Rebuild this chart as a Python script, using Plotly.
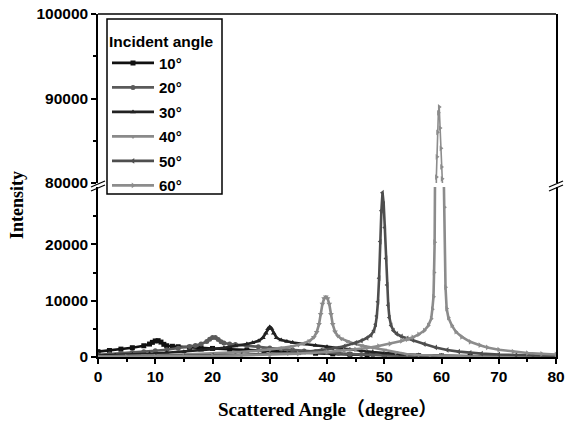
import plotly.graph_objects as go

# ---------------- data ----------------
legend_labels = ["10°", "20°", "30°", "40°", "50°", "60°"]

x10 = [0, 2, 4, 6, 8, 9, 9.5, 10, 10.5, 11, 11.5, 12, 13, 14, 16, 18, 20, 23, 26, 29, 32, 35, 38, 41, 44, 47,
       50, 53, 56, 60, 65, 70, 75, 80]
y10 = [950, 1150, 1400, 1650, 2000, 2300, 2600, 2850, 2900, 2650, 2250, 2000, 1900, 1820, 1720, 1620, 1520,
       1370, 1220, 1070, 920, 790, 670, 560, 470, 400, 340, 280, 230, 180, 130, 90, 60, 40]

x20 = [0, 2, 4, 6, 8, 10, 12, 14, 16, 17, 18, 19, 19.5, 20, 20.5, 21, 21.5, 22, 23, 24, 26, 28, 30, 32, 34, 36,
       38, 40, 42, 44, 46, 48, 50, 53, 56, 60, 65, 70, 75, 80]
y20 = [400, 520, 650, 800, 950, 1100, 1300, 1550, 1850, 2050, 2300, 2750, 3150, 3450, 3450, 3100, 2700, 2480,
       2320, 2200, 2000, 1800, 1600, 1420, 1250, 1080, 920, 780, 650, 540, 440, 360, 290, 210, 150, 100, 60,
       35, 20, 10]

x30 = [0, 3, 6, 9, 12, 15, 18, 20, 22, 24, 26, 27, 28, 28.8, 29.3, 29.7, 30, 30.3, 30.7, 31.2, 32, 33, 34, 36,
       38, 40, 42, 44, 46, 48, 50, 53, 56, 60, 65, 70, 75, 80]
y30 = [250, 330, 440, 580, 750, 950, 1200, 1400, 1650, 1950, 2300, 2550, 2850, 3400, 4200, 5000, 5350, 5050,
       4200, 3400, 3000, 2750, 2580, 2300, 2050, 1800, 1550, 1320, 1100, 900, 720, 510, 360, 230, 140, 85,
       50, 30]

x40 = [0, 4, 8, 12, 16, 20, 24, 28, 30, 32, 34, 35, 36, 37, 37.7, 38.2, 38.6, 38.9, 39.2, 39.5, 39.8, 40.1,
       40.4, 40.7, 41.0, 41.4, 41.9, 42.5, 43.5, 44.5, 46, 48, 50, 52, 54, 56, 58, 60, 63, 66, 70, 75, 80]
y40 = [100, 150, 230, 330, 460, 630, 850, 1120, 1320, 1580, 1920, 2150, 2450, 2900, 3500, 4400, 5800, 7600,
       9400, 10400, 10700, 10400, 9400, 7600, 5800, 4500, 3750, 3250, 2800, 2450, 2050, 1650, 1250, 800,
       500, 350, 260, 200, 140, 100, 70, 50, 35]

x50 = [0, 5, 10, 15, 20, 25, 30, 33, 36, 39, 41, 43, 45, 46, 47, 47.7, 48.2, 48.5, 48.7, 48.9, 49.1, 49.3,
       49.5, 49.7, 49.9, 50.1, 50.3, 50.5, 50.7, 50.9, 51.2, 51.6, 52.2, 53, 54, 55, 57, 59, 61, 63, 65, 67,
       70, 73, 76, 80]
y50 = [50, 80, 130, 200, 290, 400, 550, 700, 900, 1200, 1500, 1900, 2500, 2900, 3400, 3900, 4700, 5800, 7300,
       9800, 14000, 20500, 26000, 29200, 27200, 23000, 17500, 12800, 9200, 7000, 5600, 4700, 4100, 3650,
       3300, 3000, 2300, 1700, 1250, 950, 750, 600, 450, 330, 250, 180]

x60 = [0, 5, 10, 15, 20, 25, 30, 35, 40, 43, 45, 47, 49, 51, 53, 54, 55, 56, 57, 57.7, 58.2, 58.4, 58.6, 58.7,
       58.8, 58.95, 59.1, 59.2, 59.3, 59.45, 59.6, 59.75, 59.9, 60.0, 60.1, 60.2, 60.35, 60.5, 60.7, 60.9,
       61.2, 61.8, 62.5, 63.5, 65, 66.7, 68, 70, 72.5, 75, 77.5, 80]
y60 = [20, 40, 70, 120, 180, 280, 400, 600, 900, 1150, 1350, 1600, 1950, 2350, 2850, 3150, 3500, 4000, 4700,
       5600, 6800, 8500, 10700, 15000, 20400, 45000, 80700, 83100, 86000, 88300, 89000, 86500, 84100, 81900,
       80500, 60000, 35000, 26600, 12400, 8600, 7000, 5600, 4500, 3600, 2700, 2100, 1700, 1300, 950, 700,
       560, 450]

x_ticks = [0, 10, 20, 30, 40, 50, 60, 70, 80]
x_minor = [5, 15, 25, 35, 45, 55, 65, 75]
y_low_ticks = [0, 10000, 20000]
y_low_minor = [5000, 15000, 25000]
y_high_ticks = [80000, 90000, 100000]
y_high_minor = [85000, 95000]

# ---------------- styling ----------------
colors = ["#111111", "#5a5a5a", "#222222", "#8a8a8a", "#4e4e4e", "#8c8c8c"]
symbols = ["square", "circle", "triangle-up", "triangle-down", "triangle-left", "triangle-right"]
xs = [x10, x20, x30, x40, x50, x60]
ys = [y10, y20, y30, y40, y50, y60]

W, H = 565, 423
L, R, T, B = 98, 9, 14, 66
PW, PH = W - L - R, H - T - B


def px_x(p):  # reference pixel -> paper x
    return (p - L) / PW


def px_y(p):  # reference pixel -> paper y
    return (H - B - p) / PH


fig = go.Figure()
for lab, xv, yv, c, s in zip(legend_labels, xs, ys, colors, symbols):
    fig.add_trace(go.Scatter(x=xv, y=yv, mode="lines+markers", name=lab, legendgroup=lab,
                             line=dict(color=c, width=2.6), marker=dict(symbol=s, size=5, color=c),
                             xaxis="x", yaxis="y"))
# the 60° peak continues on the upper (broken) segment
fig.add_trace(go.Scatter(x=x60, y=y60, mode="lines+markers", name=legend_labels[5],
                         legendgroup=legend_labels[5], showlegend=False,
                         line=dict(color=colors[5], width=1.6),
                         marker=dict(symbol=symbols[5], size=5, color=colors[5]),
                         xaxis="x", yaxis="y2"))

tickfont = dict(family="Liberation Sans, Arial, sans-serif", size=15.5, color="black", weight="bold")
axis_common = dict(showline=True, linecolor="black", linewidth=1.5, ticks="outside", ticklen=5,
                   tickwidth=1.5, tickcolor="black", showgrid=False, zeroline=False, tickfont=tickfont,
                   automargin=False, ticklabeloverflow="allow")

lower_top = px_y(187)
upper_bot = px_y(183)

fig.update_layout(
    width=W, height=H,
    margin=dict(l=L, r=R, t=T, b=B, autoexpand=False),
    paper_bgcolor="white", plot_bgcolor="white",
    showlegend=True,
    xaxis=dict(domain=[0, 1], range=[0, 80], tickmode="array", tickvals=x_ticks,
               ticktext=[str(v) for v in x_ticks], anchor="y",
               minor=dict(tickmode="array", tickvals=x_minor, ticks="outside", ticklen=3, tickwidth=1.5,
                          tickcolor="black"),
               **axis_common),
    yaxis=dict(domain=[0, lower_top], range=[0, 30200], tickmode="array", tickvals=y_low_ticks,
               ticktext=[str(v) for v in y_low_ticks], anchor="x", mirror=True,
               minor=dict(tickmode="array", tickvals=y_low_minor, ticks="outside", ticklen=3, tickwidth=1.5,
                          tickcolor="black"),
               **axis_common),
    yaxis2=dict(domain=[upper_bot, 1], range=[80000, 100000], tickmode="array", tickvals=y_high_ticks,
                ticktext=[str(v) for v in y_high_ticks], anchor="x", mirror=True,
                minor=dict(tickmode="array", tickvals=y_high_minor, ticks="outside", ticklen=3, tickwidth=1.5,
                           tickcolor="black"),
                **axis_common),
    legend=dict(x=px_x(107), y=px_y(26.5), xanchor="left", yanchor="top", bgcolor="rgba(0,0,0,0)",
                borderwidth=0, tracegroupgap=2, itemwidth=42,
                font=dict(family="Liberation Sans, Arial, sans-serif", size=15, color="black", weight="bold"),
                title=dict(text="Incident angle",
                           font=dict(family="Liberation Sans, Arial, sans-serif", size=15.5, color="black",
                                     weight="bold"))),
    annotations=[
        dict(text="Intensity", textangle=-90, x=px_x(17), y=px_y(205), xref="paper", yref="paper",
             showarrow=False, xanchor="center", yanchor="middle",
             font=dict(family="Liberation Serif, Times New Roman, serif", size=18, color="black", weight="bold")),
        dict(text="Scattered Angle（degree）", x=px_x(327), y=px_y(409), xref="paper", yref="paper",
             showarrow=False, xanchor="center", yanchor="middle",
             font=dict(family="Liberation Serif, Noto Sans CJK SC, serif", size=19, color="black", weight="bold")),
    ],
    shapes=[
        # top frame line
        dict(type="line", xref="paper", yref="paper", x0=0, x1=1, y0=1, y1=1,
             line=dict(color="black", width=1.5)),
        # legend frame
        dict(type="rect", xref="paper", yref="paper", x0=px_x(107), x1=px_x(222), y0=px_y(194), y1=px_y(19),
             fillcolor="white", line=dict(color="black", width=1.5), layer="above"),
        # axis break marks, left
        dict(type="line", xref="paper", yref="paper", x0=px_x(91), y0=px_y(187), x1=px_x(105), y1=px_y(181),
             line=dict(color="black", width=1.3)),
        dict(type="line", xref="paper", yref="paper", x0=px_x(91), y0=px_y(191), x1=px_x(105), y1=px_y(185),
             line=dict(color="black", width=1.3)),
        # axis break marks, right
        dict(type="line", xref="paper", yref="paper", x0=px_x(549), y0=px_y(187), x1=px_x(563), y1=px_y(181),
             line=dict(color="black", width=1.3)),
        dict(type="line", xref="paper", yref="paper", x0=px_x(549), y0=px_y(191), x1=px_x(563), y1=px_y(185),
             line=dict(color="black", width=1.3)),
    ],
)

# remove the browser's default 8px body margin so the figure fills the window exactly
fig.write_html("out.html", config={"displayModeBar": False},
               post_script="document.body.style.margin='0px';")
